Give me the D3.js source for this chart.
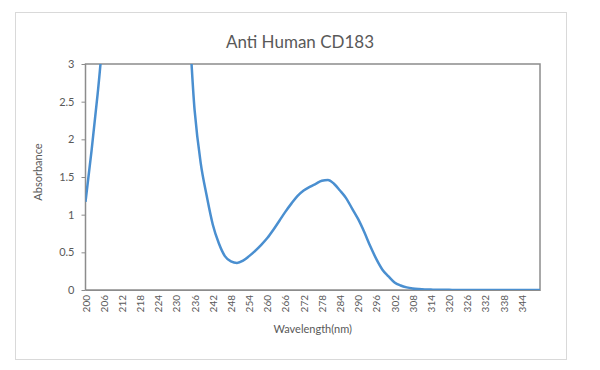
<!DOCTYPE html>
<html lang="en">
<head>
	<meta charset="UTF-8">
	<title>Anti Human CD183</title>
	<script src="https://d3js.org/d3.v7.min.js"></script>
	<style>
		body{
			margin: 0;
			background-color: #ffffff;
		}
		text{
			font-family: "Lato", "Liberation Sans", sans-serif;
			fill: #595959;
		}
		.title{
			font-size: 17px;
		}
		.axis text{
			font-size: 11px;
		}
		.axis--x text{
			font-size: 10px;
		}
		.axis path, .axis line{
			stroke: #8c8c8c;
		}
		.curve{
			fill: none;
			stroke: #4a8fd0;
			stroke-width: 2.5;
			stroke-linejoin: round;
		}
	</style>
</head>
<body>
<script type="text/javascript">
	// every 2 nm (values above 3 run off the chart)
	var wavelengths = [200, 202, 204, 206, 208, 210, 212, 214, 216, 218, 220, 222, 224, 226, 228,
		230, 232, 234, 236, 238, 240, 242, 244, 246, 248, 250, 252, 254, 256, 258,
		260, 262, 264, 266, 268, 270, 272, 274, 276, 278, 280, 282, 284, 286, 288,
		290, 292, 294, 296, 298, 300, 302, 304, 306, 308, 310, 312, 314, 316, 318,
		320, 322, 324, 326, 328, 330, 332, 334, 336, 338, 340, 342, 344, 346, 348, 350];
	var absorbance = [1.17, 1.85, 2.6, 3.4, 3.8, 4.0, 4.0, 4.0, 4.0, 4.0, 4.0, 4.0, 4.0, 4.0, 4.0,
		4.0, 3.9, 3.55, 2.39, 1.69, 1.25, 0.87, 0.62, 0.45, 0.38, 0.36, 0.39, 0.45, 0.52, 0.60,
		0.69, 0.80, 0.92, 1.04, 1.15, 1.25, 1.32, 1.37, 1.41, 1.45, 1.46, 1.41, 1.32, 1.22, 1.08,
		0.94, 0.77, 0.58, 0.41, 0.27, 0.18, 0.10, 0.06, 0.035, 0.02, 0.012, 0.007, 0.005, 0.003, 0.002,
		0.002, 0.001, 0.001, 0.001, 0.001, 0, 0, 0, 0, 0, 0, 0, 0, 0, 0, 0];
	var xTicks = d3.range(200, 345, 6);
	var yTicks = [0, 0.5, 1, 1.5, 2, 2.5, 3];

	var data = wavelengths.map(function (w, i) {
		return {w: w, a: absorbance[i]};
	});

	var W = 600, H = 370;
	var margin = {top: 64, bottom: 80, left: 85.5, right: 60};
	var width = W - margin.left - margin.right,
		height = H - margin.top - margin.bottom;

	var root = d3.select('body').append('svg')
		.attr('width', W)
		.attr('height', H);

	// outer chart border
	root.append('rect')
		.attr('x', 15.5).attr('y', 12.5)
		.attr('width', 551).attr('height', 347)
		.attr('fill', '#ffffff')
		.attr('stroke', '#d9d9d9');

	root.append('text')
		.attr('class', 'title')
		.attr('x', 300).attr('y', 48)
		.attr('text-anchor', 'middle')
		.text('Anti Human CD183');

	var svg = root.append('g')
		.attr('transform', 'translate(' + margin.left + ',' + margin.top + ')');

	var x = d3.scaleLinear().domain([200, 350]).range([0, width]);
	var y = d3.scaleLinear().domain([0, 3]).range([height, 0]);

	svg.append('defs').append('clipPath').attr('id', 'plot')
		.append('rect').attr('width', width).attr('height', height);

	//----Achsen----//
	svg.append('g')
		.attr('class', 'axis axis--x')
		.attr('transform', 'translate(0,' + height + ')')
		.call(d3.axisBottom(x).tickValues(xTicks).tickSize(0).tickPadding(5))
		.selectAll('text')
			.attr('transform', 'rotate(-90)')
			.attr('text-anchor', 'end')
			.attr('dy', '0.35em')
			.attr('x', -5)
			.attr('y', 0);

	svg.append('g')
		.attr('class', 'axis axis--y')
		.call(d3.axisLeft(y).tickValues(yTicks).tickSize(4).tickPadding(7)
			.tickFormat(function (d) { return d; }))
		.select('.domain').remove();

	// box round the plot
	svg.append('rect')
		.attr('width', width).attr('height', height)
		.attr('fill', 'none')
		.attr('stroke', '#8c8c8c')
		.attr('stroke-width', 1.5);

	svg.append('path')
		.datum(data)
		.attr('class', 'curve')
		.attr('clip-path', 'url(#plot)')
		.attr('d', d3.line()
			.x(function (d) { return x(d.w); })
			.y(function (d) { return y(d.a); })
			.curve(d3.curveMonotoneX));

	root.append('text')
		.attr('x', margin.left + width / 2).attr('y', 333)
		.attr('text-anchor', 'middle')
		.style('font-size', '11px')
		.text('Wavelength(nm)');

	root.append('text')
		.attr('transform', 'translate(42,' + (margin.top + height / 2 - 5) + ') rotate(-90)')
		.attr('text-anchor', 'middle')
		.style('font-size', '11px')
		.text('Absorbance');
</script>
</body>
</html>
